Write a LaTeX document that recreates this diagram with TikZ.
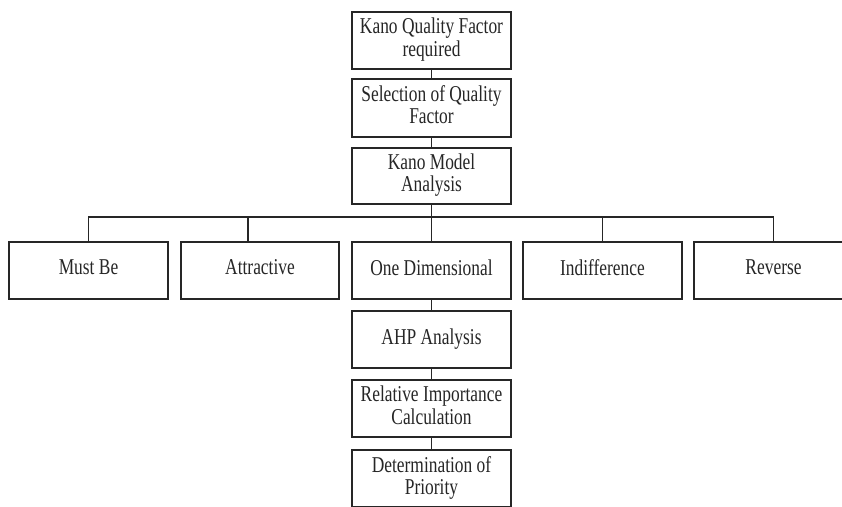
\documentclass[tikz,border=0pt]{standalone}
\usepackage{fontspec}
\setmainfont{Liberation Serif}
\newcommand{\tallt}[1]{\raisebox{-1.5pt}{\scalebox{1}[1.3]{\fontsize{17.4}{17}\selectfont\begin{tabular}{@{}c@{}}#1\end{tabular}}}}
\begin{document}
\begin{tikzpicture}[x=1pt,y=-1pt,
  box/.style={draw=black!85,line width=1.4pt,rectangle,minimum width=159pt,minimum height=57pt,
    inner sep=0pt,align=center,text=black!85},
  conn/.style={draw=black!85,line width=1.4pt}]
\clip (0,0) rectangle (842,506);
\fill[white] (0,0) rectangle (842,506);
\node[box] (k1) at (431.5,40.5) {\tallt{Kano Quality Factor\\required}};
\node[box,minimum height=58pt] (k2) at (431.5,108) {\tallt{Selection of Quality\\Factor}};
\node[box,minimum height=56pt] (k3) at (431.5,176) {\tallt{Kano Model\\Analysis}};
\node[box] (mustbe) at (88.5,270.5) {\tallt{Must Be}};
\node[box,minimum width=158pt] (attr) at (260,270.5) {\tallt{Attractive}};
\node[box] (onedim) at (431.5,270.5) {\tallt{One Dimensional}};
\node[box] (indiff) at (602.5,270.5) {\tallt{Indifference}};
\node[box] (rev) at (773.5,270.5) {\tallt{Reverse}};
\node[box] (ahp) at (431.5,339.5) {\tallt{AHP Analysis}};
\node[box] (rel) at (431.5,408.5) {\tallt{Relative Importance\\Calculation}};
\node[box] (det) at (431.5,478.5) {\tallt{Determination of\\Priority}};
\coordinate (bus) at (0,217);
\draw[conn] (k1) -- (k2);
\draw[conn] (k2) -- (k3);
\draw[conn] (k3) -- (onedim);
\draw[conn] (mustbe.north) -- (mustbe.north |- bus) -- (rev.north |- bus) -- (rev.north);
\draw[conn] ([xshift=-12pt]attr.north) -- ([xshift=-12pt]attr.north |- bus);
\draw[conn] (indiff.north) -- (indiff.north |- bus);
\draw[conn] (onedim) -- (ahp);
\draw[conn] (ahp) -- (rel);
\draw[conn] (rel) -- (det);
\end{tikzpicture}
\end{document}
